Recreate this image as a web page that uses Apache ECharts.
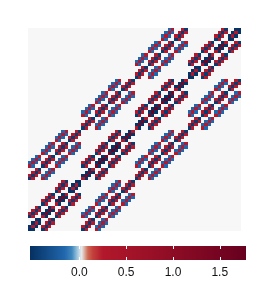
<!DOCTYPE html>
<html><head><meta charset="utf-8">
<style>html,body{margin:0;padding:0;background:#fff}#c{width:270px;height:300px}</style>
<script src="https://cdn.jsdelivr.net/npm/echarts@6/dist/echarts.min.js"></script></head>
<body><div id="c"></div>
<script>
var codes = {a:-0.527, d:-0.50, n:-0.46, b:-0.17, r:0.25, e:0.3, m:1.45, w:1.78};
var tickLabels = [0, 0.5, 1, 1.5];
var valueMin = -0.527, valueMax = 1.78;
var blockOuter = [
"ad..nr..........","ded.rnr.........",".ded.rnr........","..da..rn........",
"nr..ed..nr......","rnr.dmd.rnr.....",".rnr.dmd.rnr....","..rn..de..rn....",
"....nr..ed..nr..","....rnr.dmd.rnr.",".....rnr.dmd.rnr","......rn..de..rn",
"........nr..ad..","........rnr.ded.",".........rnr.ded","..........rn..da"];
var blockInner = [
"ed..nr..........","dmd.rnr.........",".dmd.rnr........","..de..rn........",
"nr..md..nr......","rnr.dwd.rnr.....",".rnr.dwd.rnr....","..rn..dm..rn....",
"....nr..md..nr..","....rnr.dwd.rnr.",".....rnr.dwd.rnr","......rn..dm..rn",
"........nr..ed..","........rnr.dmd.",".........rnr.dmd","..........rn..de"];
var blockCoupling = [
"nr..rb..........","rnr.brb.........",".rnr.brb........","..rn..br........",
"rb..nr..rb......","brb.rnr.brb.....",".brb.rnr.brb....","..br..rn..br....",
"....rb..nr..rb..","....brb.rnr.brb.",".....brb.rnr.brb","......br..rn..br",
"........rb..nr..","........brb.rnr.",".........brb.rnr","..........br..rn"];
var blockEmpty = "................";
var layout = [
[blockOuter, blockCoupling, null, null],
[blockCoupling, blockInner, blockCoupling, null],
[null, blockCoupling, blockInner, blockCoupling],
[null, null, blockCoupling, blockOuter]];
var colorStops = [
[-0.527,"#053061"],[-0.16,"#2166AC"],[-0.08,"#3F86BD"],[-0.03,"#8FBEDB"],[0.0,"#C5DBE8"],
[0.025,"#E8E8E8"],[0.05,"#DCB8AD"],[0.09,"#CD6A55"],[0.14,"#C4423C"],[0.25,"#B2182B"],[1.78,"#67001F"]];
var cells = [];
layout.forEach(function(bigRow, R){
  for (var r = 0; r < 16; r++) {
    bigRow.forEach(function(block, S){
      var line = block ? block[r] : blockEmpty;
      for (var c = 0; c < 16; c++) {
        var ch = line.charAt(c);
        if (ch !== '.') cells.push([S*16 + c, R*16 + r, codes[ch]]);
      }
    });
  }
});
function hex(h){return [1,3,5].map(function(i){return parseInt(h.substr(i,2),16);});}
function ramp(v){
  for (var i=1;i<colorStops.length;i++){
    if (v<=colorStops[i][0]){
      var a=colorStops[i-1],b=colorStops[i],t=(v-a[0])/(b[0]-a[0]),x=hex(a[1]),y=hex(b[1]);
      return 'rgb('+x.map(function(q,k){return Math.round(q+(y[k]-q)*t);}).join(',')+')';
    }
  }
  return colorStops[colorStops.length-1][1];
}
var palette=[];
for (var i=0;i<=230;i++) palette.push(ramp(valueMin+(valueMax-valueMin)*i/230));
var barStops=palette.map(function(c,i){return {offset:i/230,color:c};});
var chart = echarts.init(document.getElementById('c'), null, {renderer:'canvas'});
chart.setOption({
  animation:false,
  backgroundColor:'#fff',
  grid:[
    {left:28,top:28,width:213,height:203,show:true,backgroundColor:'#F7F7F7',borderWidth:0},
    {left:30,top:246,width:216,height:14,show:true,borderWidth:0,
     backgroundColor:new echarts.graphic.LinearGradient(0,0,1,0,barStops)}
  ],
  xAxis:[
    {gridIndex:0,type:'value',min:0,max:64,show:false},
    {gridIndex:1,type:'value',min:valueMin,max:valueMax,z:10,position:'bottom',
     axisLine:{show:false},splitLine:{show:false},
     axisTick:{show:true,inside:true,length:3,customValues:tickLabels,lineStyle:{color:'#fff',width:1}},
     axisLabel:{show:true,customValues:tickLabels,margin:7,fontFamily:'Liberation Sans',fontSize:12,color:'#111',
       formatter:function(v){return v.toFixed(1);}}},
    {gridIndex:1,type:'value',min:valueMin,max:valueMax,z:10,position:'top',
     axisLine:{show:false},splitLine:{show:false},axisLabel:{show:false},
     axisTick:{show:true,inside:true,length:3,customValues:tickLabels,lineStyle:{color:'#fff',width:1}}}
  ],
  yAxis:[
    {gridIndex:0,type:'value',min:0,max:64,show:false},
    {gridIndex:1,type:'value',min:0,max:1,show:false}
  ],
  visualMap:{type:'continuous',show:false,min:valueMin,max:valueMax,dimension:2,seriesIndex:0,
    inRange:{color:palette}},
  series:[{
    type:'custom',coordinateSystem:'cartesian2d',xAxisIndex:0,yAxisIndex:0,
    encode:{x:0,y:1},data:cells,silent:true,
    renderItem:function(params,api){
      var p0=api.coord([api.value(0),api.value(1)]);
      var p1=api.coord([api.value(0)+1,api.value(1)+1]);
      var x0=Math.round(p0[0]),x1=Math.round(p1[0]),y0=Math.round(p0[1]),y1=Math.round(p1[1]);
      return {type:'rect',shape:{x:x0,y:y1,width:x1-x0,height:y0-y1},style:{fill:api.visual('color')}};
    }
  }]
});
</script></body></html>
